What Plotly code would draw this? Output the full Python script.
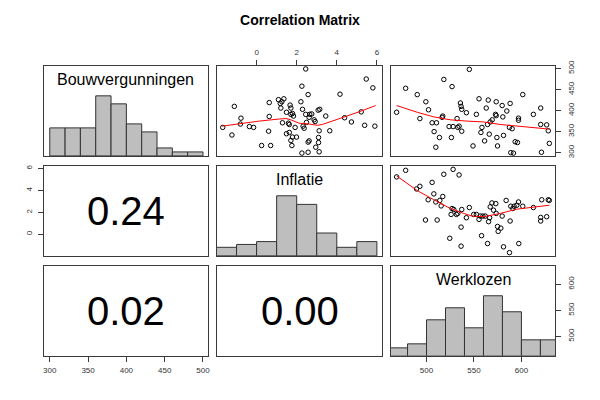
import plotly.graph_objects as go

# ---------------- data ----------------
title = "Correlation Matrix"
var_names = ["Bouwvergunningen", "Inflatie", "Werklozen"]
var_ranges = [[292.2, 506.5], [-1.98, 6.26], [462.6, 635.6]]
tick_vals = [[300, 350, 400, 450, 500], [0, 2, 4, 6], [500, 550, 600]]
cor_labels = {(1, 0): "0.24", (2, 0): "0.02", (2, 1): "0.00"}

hist_start = [300, -2, 460]
hist_width = [20, 1, 20]
hist_counts = [
    [7, 7, 7, 15, 13, 8, 6, 2, 1, 1],
    [3, 4, 5, 21, 18, 8, 3, 5],
    [2, 3, 9, 12, 7, 15, 11, 4, 4],
]

# panel (row 0, col 1): x = Inflatie, y = Bouwvergunningen
infl_a = [-1.69, -1.11, -1.23, -0.78, -0.81, -0.36, -0.15, 0.25, 0.60, 0.63,
          0.63, 0.70, 1.09, 1.18, 1.26, 1.36, 1.21, 1.29, 1.49, 1.59,
          1.63, 1.67, 1.71, 1.71, 1.79, 1.84, 1.92, 1.49, 1.63, 1.71,
          1.79, 1.99, 1.76, 2.26, 2.21, 2.29, 2.45, 2.57, 2.45, 2.62,
          2.65, 2.75, 2.32, 2.37, 2.49, 2.57, 2.62, 2.26, 2.57, 2.87,
          2.92, 3.07, 3.15, 3.12, 3.09, 3.09, 2.95, 3.12, 3.45, 3.65,
          4.16, 4.39, 4.73, 5.22, 5.39, 5.47, 5.80, 5.90]
bouw_a = [360, 410, 342, 382, 368, 362, 360, 317, 351, 386,
          419, 317, 426, 417, 421, 428, 406, 371, 396, 370,
          367, 413, 406, 391, 393, 387, 360, 345, 348, 329,
          337, 337, 317, 458, 421, 403, 499, 438, 391, 384,
          391, 392, 363, 358, 372, 325, 328, 299, 301, 378,
          374, 401, 403, 352, 336, 324, 313, 302, 387, 352,
          439, 383, 373, 397, 365, 475, 454, 363]
loess_a_x = [-1.72, -0.78, 0.13, 1.13, 1.46, 1.71, 2.12, 2.62, 3.03, 3.28, 3.78, 4.28, 5.11, 5.94]
loess_a_y = [363, 370, 375, 380, 381, 378, 370, 368, 365, 367, 375, 384, 397, 412]

# panel (row 0, col 2): x = Werklozen, y = Bouwvergunningen
werk_b = [468.5, 478, 490.2, 493, 499.3, 502.1, 505.9, 508, 510.5, 509.8,
          513.6, 516.4, 517.1, 518.2, 523.8, 526.9, 526.2, 528, 532.2, 532.9,
          534.3, 535.7, 536.4, 537.1, 537.1, 542, 545.1, 549, 552.5, 555.3,
          557.3, 558.4, 561.2, 562.9, 565, 564.3, 566.1, 567.1, 569.2, 572.7,
          573.4, 573.4, 574.1, 574.8, 579.7, 580.4, 581.1, 584.6, 587.4, 588.1,
          590.2, 588.8, 591.6, 593.4, 595.8, 596.9, 596.9, 601.4, 612.6, 620.3,
          620.3, 621.1, 626.6, 628.3, 629.4]
bouw_b = [396, 453, 438, 381, 421, 402, 371, 350, 371, 313,
          336, 384, 387, 474, 362, 457, 336, 362, 381, 360,
          363, 418, 410, 403, 351, 395, 498, 316, 391, 428,
          348, 360, 328, 406, 425, 367, 344, 373, 378, 391,
          388, 421, 336, 316, 412, 385, 341, 399, 360, 417,
          357, 300, 299, 326, 324, 382, 377, 438, 391, 406,
          367, 301, 366, 352, 322]
loess_b_x = [468.5, 490.2, 507.7, 525.2, 542.7, 560.2, 577.6, 595.1, 612.6, 629.4]
loess_b_y = [412, 396, 385, 378, 375, 373, 367, 363, 360, 356]

# panel (row 1, col 2): x = Werklozen, y = Inflatie
werk_c = [468.5, 478, 489.5, 493, 498.9, 501.7, 505.9, 507.7, 509.8, 511.2,
          514, 515.4, 517.1, 518.2, 524.5, 525.9, 526.9, 528, 528.7, 531.5,
          532.9, 534.3, 536.4, 536.4, 537.1, 542, 545.1, 549.7, 552.5, 555.3,
          556.7, 558, 559.4, 561.9, 564.3, 565.4, 566.5, 567.1, 568.9, 570.6,
          573, 573.4, 574.8, 575.5, 578.3, 579.7, 581.1, 583.9, 587.4, 588.1,
          588.8, 590.9, 592.3, 595.1, 596.9, 597.2, 601.4, 612.6, 620.3, 620.3,
          621.4, 626.6, 628.3, 629.4]
infl_c = [5.24, 5.84, 4.14, 4.38, 1.30, 3.15, 4.74, 3.69, 2.95, 1.30,
          3.09, 2.59, 3.45, 5.48, -0.37, 1.81, 2.35, 5.93, 2.26, 1.81,
          1.90, 5.42, 0.65, -1.09, 2.26, 1.51, 2.44, 1.81, 1.81, 1.36,
          1.66, -0.13, 1.66, 1.66, -0.85, 1.15, 1.51, 2.50, 2.86, 2.20,
          2.80, 1.90, 0.71, 0.26, 0.56, 1.66, -1.15, 3.09, -1.68, 1.21,
          2.56, 2.35, 2.56, 2.65, 2.95, -0.85, 2.56, 2.44, 1.54, 1.21,
          3.15, 1.60, 3.15, 3.09]
loess_c_x = [468.5, 490.2, 507.7, 525.2, 539.2, 547.9, 560.2, 577.6, 595.1, 612.6, 629.4]
loess_c_y = [5.33, 3.99, 3.15, 2.35, 1.90, 1.66, 1.60, 1.90, 2.29, 2.50, 2.65]

scatter_data = {
    (0, 1): (infl_a, bouw_a, loess_a_x, loess_a_y),
    (0, 2): (werk_b, bouw_b, loess_b_x, loess_b_y),
    (1, 2): (werk_c, infl_c, loess_c_x, loess_c_y),
}

# ---------------- layout geometry ----------------
W, H = 600, 400
col_px = [[43, 208], [217, 383], [392, 557]]
row_px = [[61, 153], [163, 255], [265, 357]]
FONT = "Liberation Sans, Arial, Helvetica, sans-serif"
FRAME = "#3a3a3a"
TICKFONT = dict(family=FONT, size=8, color="#333333")

def xdom(c):
    return [col_px[c][0] / W, col_px[c][1] / W]

def ydom(r):
    return [1 - row_px[r][1] / H, 1 - row_px[r][0] / H]

fig = go.Figure()
layout = dict(
    width=W, height=H, autosize=False,
    margin=dict(l=0, r=0, t=0, b=0),
    paper_bgcolor="white", plot_bgcolor="white",
    showlegend=False, hovermode=False,
    title=dict(text="<b>" + title + "</b>", x=0.5, xanchor="center",
               y=1 - 20 / H, yanchor="middle",
               font=dict(family=FONT, size=14, color="black")),
)
annotations = []

x_ticks = {(0, 1): "top", (2, 0): "bottom", (2, 2): "bottom"}
y_ticks = {(0, 2): "right", (1, 0): "left"}

for r in range(3):
    for c in range(3):
        k = r * 3 + c + 1
        xn = "x" if k == 1 else f"x{k}"
        yn = "y" if k == 1 else f"y{k}"
        xa = dict(domain=xdom(c), range=var_ranges[c], anchor=yn,
                  showgrid=False, zeroline=False, showline=True, mirror=True,
                  linecolor=FRAME, linewidth=1, ticks="", showticklabels=False,
                  fixedrange=True)
        yrange = [0, 1.5] if r == c else var_ranges[r]
        ya = dict(domain=ydom(r), range=yrange, anchor=xn,
                  showgrid=False, zeroline=False, showline=True, mirror=True,
                  linecolor=FRAME, linewidth=1, ticks="", showticklabels=False,
                  fixedrange=True)
        if (r, c) in x_ticks:
            xa.update(side=x_ticks[(r, c)], ticks="outside", ticklen=5, tickwidth=1,
                      tickcolor=FRAME, showticklabels=True, tickvals=tick_vals[c],
                      tickfont=TICKFONT, ticklabelstandoff=2)
        if (r, c) in y_ticks:
            ya.update(side=y_ticks[(r, c)], ticks="outside", ticklen=5, tickwidth=1,
                      tickcolor=FRAME, showticklabels=True, tickvals=tick_vals[r],
                      tickfont=TICKFONT, tickangle=-90, ticklabelstandoff=3)
        layout["xaxis" if k == 1 else f"xaxis{k}"] = xa
        layout["yaxis" if k == 1 else f"yaxis{k}"] = ya

        if r == c:
            counts = hist_counts[r]
            mx = max(counts)
            centers = [hist_start[r] + hist_width[r] * (i + 0.5) for i in range(len(counts))]
            fig.add_trace(go.Bar(x=centers, y=[v / mx for v in counts],
                                 width=hist_width[r], xaxis=xn, yaxis=yn,
                                 marker=dict(color="#bebebe",
                                             line=dict(color="#333333", width=1))))
            annotations.append(dict(text=var_names[r], xref=f"{xn} domain", yref=f"{yn} domain",
                                    x=0.5, y=1 - 14 / 92, xanchor="center", yanchor="middle",
                                    showarrow=False, font=dict(family=FONT, size=16, color="black")))
        elif r < c:
            px, py, lx, ly = scatter_data[(r, c)]
            fig.add_trace(go.Scatter(x=px, y=py, mode="markers", xaxis=xn, yaxis=yn,
                                     marker=dict(symbol="circle-open", size=4.5,
                                                 color="black", line=dict(width=1))))
            fig.add_trace(go.Scatter(x=lx, y=ly, mode="lines", xaxis=xn, yaxis=yn,
                                     line=dict(color="red", width=1)))
        else:
            fig.add_trace(go.Scatter(x=[], y=[], mode="markers", xaxis=xn, yaxis=yn))
            annotations.append(dict(text=cor_labels[(r, c)], xref=f"{xn} domain", yref=f"{yn} domain",
                                    x=0.5, y=0.5, xanchor="center", yanchor="middle",
                                    showarrow=False, font=dict(family=FONT, size=40, color="black")))

# right-hand Werklozen scale on the last diagonal panel
layout["yaxis10"] = dict(domain=ydom(2), range=var_ranges[2], anchor="x9", overlaying="y9",
                         side="right", showgrid=False, zeroline=False, showline=False,
                         ticks="outside", ticklen=5, tickwidth=1, tickcolor=FRAME,
                         tickvals=tick_vals[2], tickfont=TICKFONT, tickangle=-90,
                         ticklabelstandoff=3, fixedrange=True)
fig.add_trace(go.Scatter(x=[], y=[], mode="markers", xaxis="x9", yaxis="y10"))

layout["annotations"] = annotations
fig.update_layout(**layout)
fig.write_html("out.html", config={"displayModeBar": False},
               post_script="document.body.style.margin='0px';document.body.style.padding='0px';")
